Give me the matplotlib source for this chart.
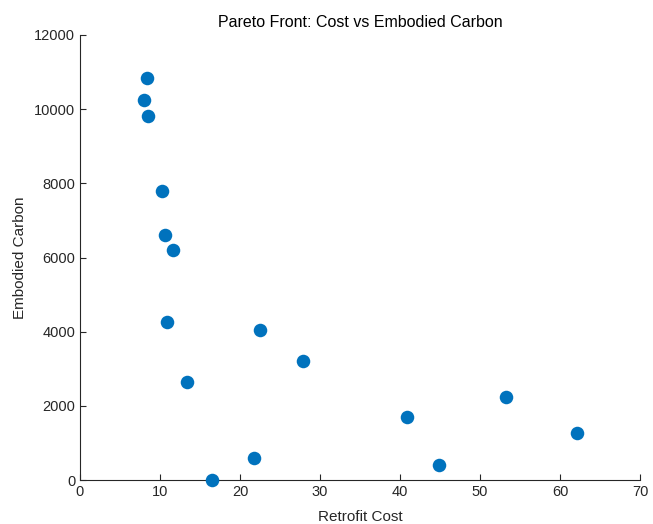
import matplotlib
matplotlib.use("Agg")
import matplotlib.pyplot as plt

plt.rcParams['font.family'] = ['Liberation Sans', 'DejaVu Sans']

retrofit_cost = [8.4, 8.0, 8.5, 10.25, 10.6, 11.6, 10.9, 13.4, 16.5, 21.75, 22.5, 27.9, 40.9, 44.9, 53.25, 62.1]
embodied_carbon = [10850, 10250, 9815, 7795, 6605, 6200, 4260, 2640, 0, 595, 4045, 3210, 1700, 405, 2240, 1270]

x_ticks = [0, 10, 20, 30, 40, 50, 60, 70]
y_ticks = [0, 2000, 4000, 6000, 8000, 10000, 12000]

fig = plt.figure(figsize=(6.53, 5.24), dpi=100)
ax = fig.add_axes([80/653, 44/524, 560/653, 445/524])
ax.scatter(retrofit_cost, embodied_carbon, s=95, color='#0072BD', linewidths=0, zorder=3, clip_on=False)
ax.set_xlim(0, 70)
ax.set_ylim(0, 12000)
ax.set_xticks(x_ticks)
ax.set_yticks(y_ticks)
for s in ['top', 'right']:
    ax.spines[s].set_visible(False)
for s in ['left', 'bottom']:
    ax.spines[s].set_color('#262626')
    ax.spines[s].set_linewidth(0.8)
ax.tick_params(direction='in', length=4, width=0.8, colors='#262626', labelsize=10.5)
ax.set_xlabel('Retrofit Cost', fontsize=11, color='#262626', labelpad=8)
ax.set_ylabel('Embodied Carbon', fontsize=11, color='#262626', labelpad=5)
ax.set_title('Pareto Front: Cost vs Embodied Carbon', fontsize=11.5, color='#000000', pad=6)
fig.savefig('out.png', dpi=100)
